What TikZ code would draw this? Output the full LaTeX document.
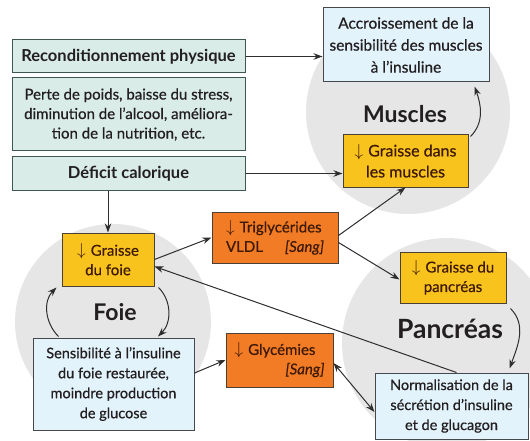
\documentclass[tikz,border=0pt]{standalone}
\usepackage{fontspec}
\setmainfont{Lato}[UprightFeatures={FakeBold=0.6},ItalicFeatures={FakeBold=0.6}]
\usetikzlibrary{arrows.meta,calc}
\definecolor{circgray}{HTML}{E6E6E6}
\definecolor{tealfill}{HTML}{D9ECE8}
\definecolor{tealdraw}{HTML}{3F5652}
\definecolor{bluefill}{HTML}{E2F3FB}
\definecolor{bluedraw}{HTML}{45494B}
\definecolor{yellowfill}{HTML}{F9C31D}
\definecolor{orangefill}{HTML}{F27B25}
\definecolor{boxdraw}{HTML}{4A4035}
\definecolor{browntext}{HTML}{3E1A06}
\definecolor{darktext}{HTML}{231F20}
\definecolor{linecol}{HTML}{2E2E2E}
\newcommand{\dnarrow}{{\fontsize{19}{19}\selectfont$\downarrow$}\hspace{5pt}}
\begin{document}
\begin{tikzpicture}[x=1pt,y=-1pt,
  box/.style={draw, line width=1pt, inner sep=0pt, align=center,
    font=\fontsize{15}{19.5}\selectfont},
  tealbox/.style={box, fill=tealfill, draw=tealdraw, text=darktext},
  bluebox/.style={box, fill=bluefill, draw=bluedraw, text=darktext},
  yellowbox/.style={box, fill=yellowfill, draw=boxdraw, text=browntext},
  orangebox/.style={box, fill=orangefill, draw=boxdraw, text=browntext},
  organ/.style={text=darktext},
  arr/.style={draw=linecol, line width=1pt, -{Stealth[length=9pt,width=6.5pt]}},
  dblarr/.style={draw=linecol, line width=1pt, {Stealth[length=9pt,width=6.5pt]}-{Stealth[length=9pt,width=6.5pt]}}
]
\useasboundingbox (0,0) rectangle (530,441);
% organ circles
\fill[circgray] (408,112) circle[radius=102pt];
\fill[circgray] (113,322) circle[radius=98pt];
\fill[circgray] (447,343) circle[radius=105pt];
% organ labels
\node[organ, font=\fontsize{23}{27}\bfseries] (lmus) at (405,114) {Muscles};
\node[organ, font=\fontsize{23}{27}\bfseries] (lfoie) at (115,312) {Foie};
\node[organ, font=\fontsize{26.5}{30}\bfseries] (lpanc) at (450,329) {Pancréas};
% left boxes
\node[tealbox, minimum width=233pt, minimum height=33pt, font=\fontsize{16.5}{19.5}\bfseries] (recond) at (128.5,56.5) {Reconditionnement physique};
\node[tealbox, minimum width=233pt, minimum height=73pt] (perte) at (128.5,114.5) {Perte de poids, baisse du stress,\\diminution de l’alcool, améliora-\\tion de la nutrition, etc.};
\node[tealbox, minimum width=233pt, minimum height=33pt, font=\fontsize{16.5}{19.5}\bfseries] (deficit) at (128.5,173.5) {Déficit calorique};
% muscles
\node[bluebox, minimum width=166pt, minimum height=74pt, font=\fontsize{15.5}{22}\selectfont] (accr) at (406,45) {Accroissement de la\\sensibilité des muscles\\à l’insuline};
\node[yellowbox, minimum width=125pt, minimum height=52pt, font=\fontsize{16}{21}\selectfont] (gmus) at (405.5,161) {\dnarrow Graisse dans\\les muscles};
% foie
\node[yellowbox, minimum width=92pt, minimum height=53pt] (gfoie) at (108,259.5) {\dnarrow Graisse\\du foie};
\node[bluebox, minimum width=161pt, minimum height=92pt, font=\fontsize{14.5}{20}\selectfont] (sens) at (113.5,384) {Sensibilité à l’insuline\\du foie restaurée,\\moindre production\\de glucose};
% blood
\node[orangebox, minimum width=126pt, minimum height=51pt, text width=98pt, align=left] (trig) at (275,237.5) {\dnarrow Triglycérides\\VLDL\hfill\textit{[Sang]}};
\node[orangebox, minimum width=107pt, minimum height=54pt, text width=90pt, align=left] (glyc) at (279.5,360) {\dnarrow Glycémies\\\hfill\textit{[Sang]}};
% pancreas
\node[yellowbox, minimum width=106pt, minimum height=51pt] (gpanc) at (453,277.5) {\dnarrow Graisse du\\pancréas};
\node[bluebox, minimum width=153pt, minimum height=66pt, font=\fontsize{14.5}{20}\selectfont] (norm) at (451.5,406) {Normalisation de la\\sécrétion d’insuline\\et de glucagon};
% connectors
\draw[arr] (recond.east) -- (recond.east -| accr.west);
\draw[arr] (deficit.east) -- (deficit.east -| gmus.west);
\draw[arr] (gfoie.north |- deficit.south) -- (gfoie.north);
\draw[arr] (gfoie.east) -- (trig.west);
\draw[arr] ([yshift=2pt]trig.east) -- (gmus.south);
\draw[arr] ([yshift=-5pt]trig.east) -- ([yshift=-2pt]gpanc.west);
\draw[arr] ([xshift=5pt]norm.north) -- ([yshift=-7pt]gfoie.east);
\draw[arr] ([yshift=11pt]sens.east) -- (glyc.west);
\draw[dblarr] ([yshift=-3pt]glyc.east) -- ([yshift=-6pt]norm.west);
\draw[arr] ([xshift=2pt,yshift=-2pt]gmus.north east) to[out=45,in=-70] ([xshift=-15pt,yshift=-4pt]accr.south east);
\draw[arr] ([xshift=4pt,yshift=-1pt]gfoie.south east) to[out=-45,in=45] ([xshift=44.5pt,yshift=1pt]sens.north);
\draw[arr] ([xshift=-55pt,yshift=1pt]sens.north) to[out=135,in=-135] ([xshift=-5pt,yshift=-1pt]gfoie.south west);
\draw[arr] ([xshift=4pt,yshift=-5pt]gpanc.south east) to[out=-45,in=70] ([xshift=58pt,yshift=4pt]norm.north);
\end{tikzpicture}
\end{document}
